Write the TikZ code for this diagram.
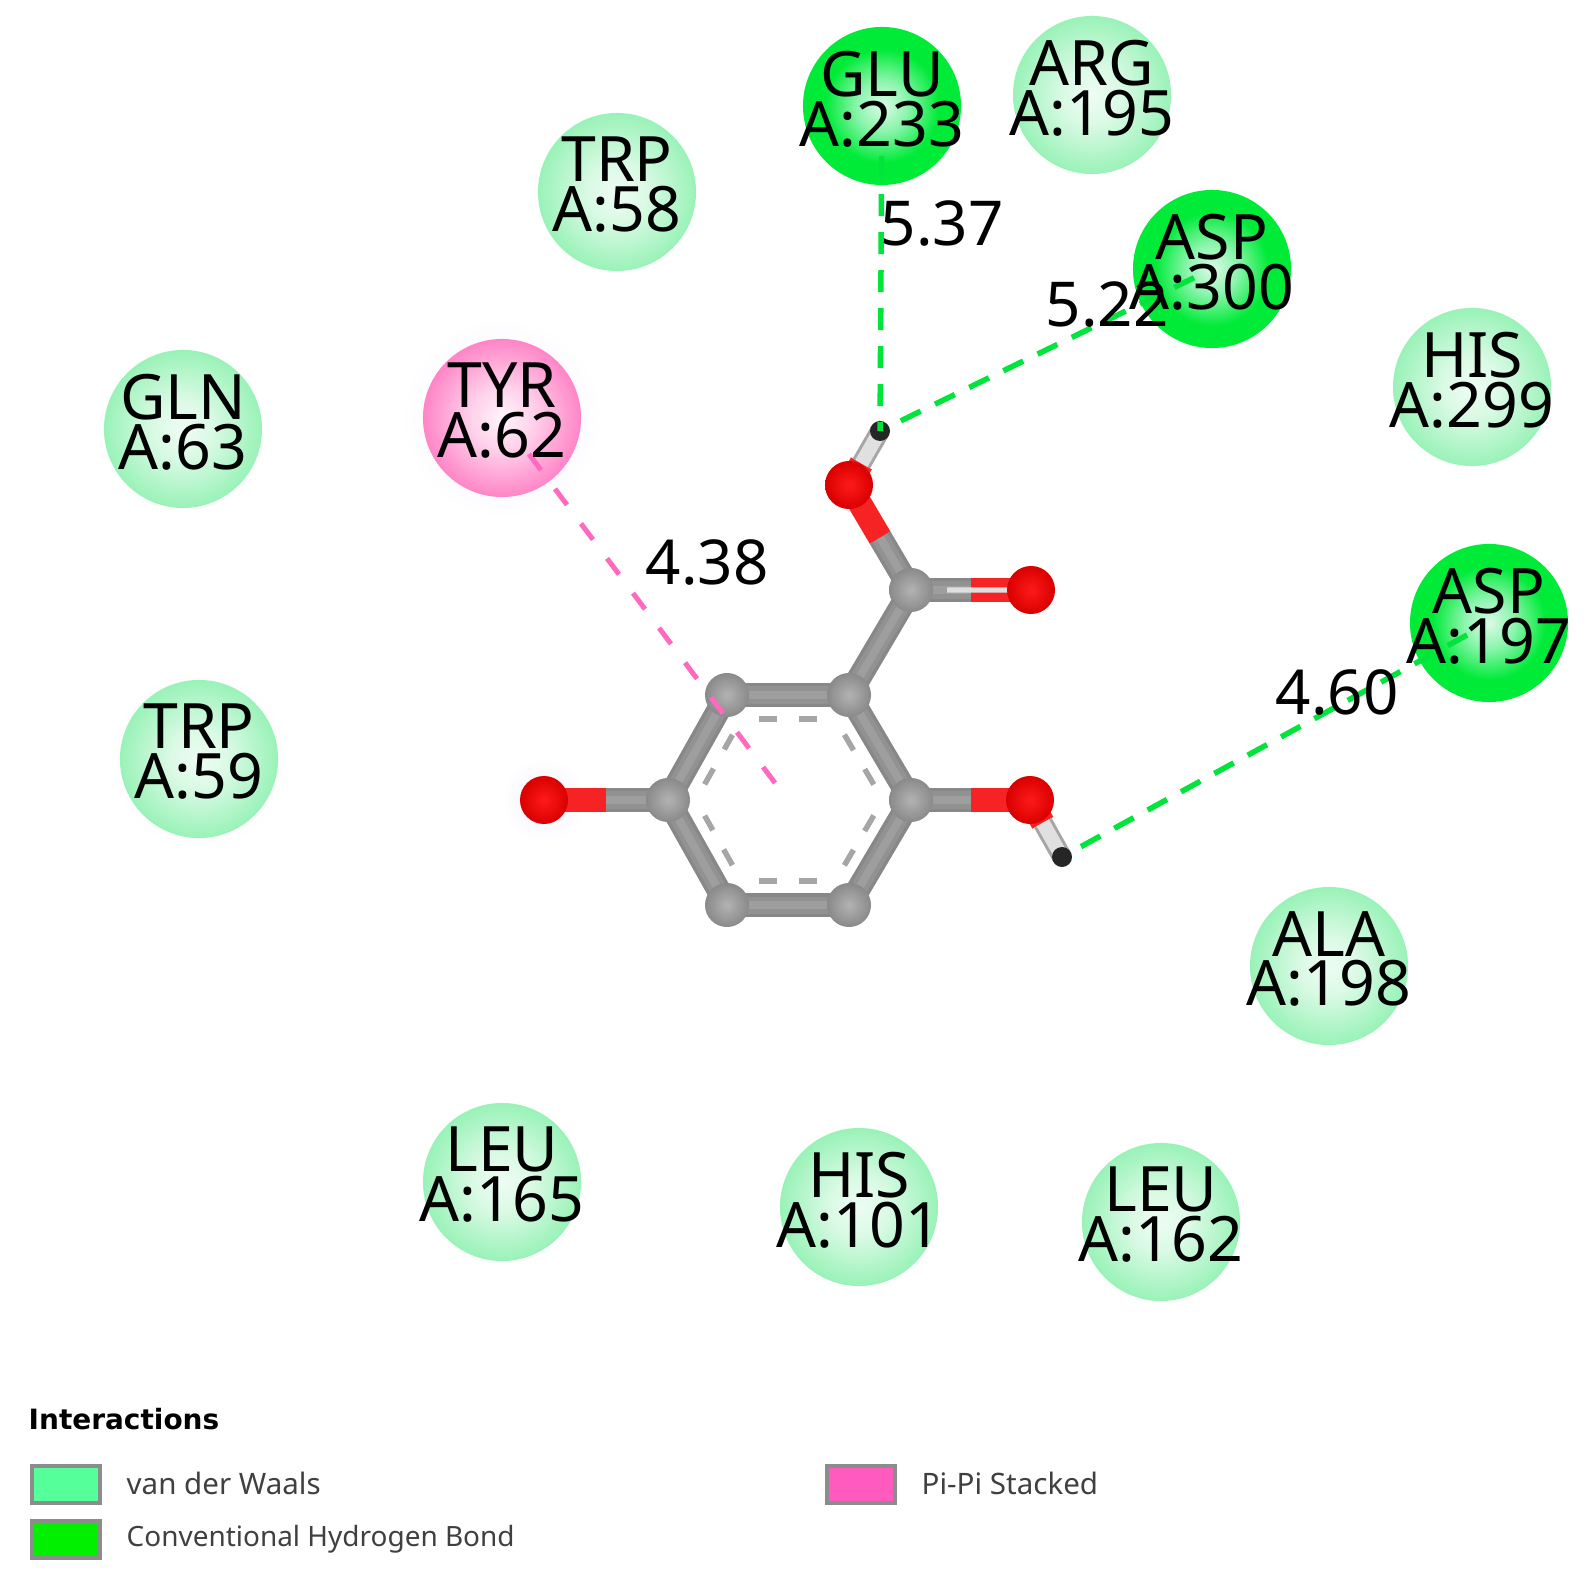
\documentclass[tikz,border=0pt]{standalone}
\usepackage{fontspec}
\setmainfont{Noto Sans}
\newfontfamily\titlefont{DejaVu Sans}
\usetikzlibrary{backgrounds,calc}
\definecolor{vdwgreen}{RGB}{85,255,153}
\definecolor{hbgreen}{RGB}{0,240,0}
\definecolor{pipink}{RGB}{255,90,190}
\definecolor{boxgray}{RGB}{140,140,140}
\definecolor{bondgray}{RGB}{136,136,136}
\definecolor{bondmid}{RGB}{146,146,146}
\definecolor{bondlight}{RGB}{158,158,158}
\definecolor{oxred}{RGB}{245,35,35}
\definecolor{dashgreen}{RGB}{0,228,60}
\definecolor{dashpink}{RGB}{255,105,190}
\pgfdeclareradialshading{vdwshade}{\pgfpoint{0bp}{0bp}}{rgb(0bp)=(0.93,0.99,0.95); rgb(9bp)=(0.86,0.98,0.90); rgb(25bp)=(0.60,0.95,0.72); rgb(100bp)=(0.60,0.95,0.72)}
\pgfdeclareradialshading{hbshade}{\pgfpoint{0bp}{0bp}}{rgb(0bp)=(0.86,0.98,0.90); rgb(8bp)=(0.55,0.96,0.68); rgb(18bp)=(0,0.92,0.22); rgb(100bp)=(0,0.92,0.22)}
\pgfdeclareradialshading{pishade}{\pgfpoint{0bp}{0bp}}{rgb(0bp)=(1,0.96,0.98); rgb(10bp)=(1,0.82,0.92); rgb(25bp)=(1,0.52,0.78); rgb(100bp)=(1,0.52,0.78)}
\begin{document}
\begin{tikzpicture}[x=0.01cm,y=-0.01cm]
    \tikzstyle{residue}=[circle,draw=none,inner sep=0pt,minimum size=1.58cm,shade]
    \tikzstyle{vdw}=[residue,shading=vdwshade]
    \tikzstyle{hb}=[residue,shading=hbshade]
    \tikzstyle{pi}=[residue,shading=pishade]
    \tikzstyle{reslabel}=[inner sep=0pt,align=center,font=\fontsize{17.8}{14.2}\selectfont]
    \tikzstyle{dist}=[inner sep=0pt,font=\fontsize{17.6}{20}\selectfont]
    \tikzstyle{catom}=[circle,inner sep=0pt,minimum size=0.44cm,shade,inner color=black!30,outer color=black!46]
    \tikzstyle{oatom}=[circle,inner sep=0pt,minimum size=0.48cm,shade,inner color=red!90!white,outer color=red!85!black]
    \tikzstyle{hatom}=[circle,inner sep=0pt,minimum size=0.2cm,fill=black!85]
    \tikzstyle{cbond}=[line width=0.24cm,draw=bondgray,postaction={draw=bondmid,line width=0.17cm},postaction={draw=bondlight,line width=0.08cm}]
    \tikzstyle{obond}=[line width=0.24cm,draw=oxred]
    \tikzstyle{hbond}=[line width=0.2cm,draw=black!35,postaction={draw=black!12,line width=0.14cm}]
    \tikzstyle{arobond}=[line width=0.055cm,draw=black!35,dash pattern=on 0.18cm off 0.22cm,shorten <=0.18cm,shorten >=0.18cm]
    \tikzstyle{halo}=[inner color=blue!6,outer color=white]
    \tikzstyle{hbdash}=[line width=0.055cm,draw=dashgreen,dash pattern=on 0.22cm off 0.16cm]
    \tikzstyle{pidash}=[line width=0.05cm,draw=dashpink,dash pattern=on 0.2cm off 0.234cm]
    \tikzstyle{legbox}=[draw=boxgray,line width=0.04cm,inner sep=0pt,minimum width=0.67cm,minimum height=0.37cm]
    \tikzstyle{legtext}=[inner sep=0pt,anchor=west,text=black!75,font=\fontsize{8.4}{9}\selectfont]

    \useasboundingbox (0, 0) rectangle (1595, 1589);

    % residues
    \foreach \nm/\x/\y/\st in {glu/882/106/hb, arg/1092/95/vdw, trpa/617/192/vdw, aspa/1212/269/hb,
        hisa/1472/387/vdw, gln/183/429/vdw, tyr/502/418/pi, aspb/1489/623/hb, trpb/199/759/vdw,
        ala/1329/966/vdw, leua/502/1182/vdw, hisb/859/1207/vdw, leub/1161/1222/vdw} {
        \node[\st] (\nm) at (\x, \y) {};
    }

    % ligand
    \foreach \nm/\x/\y in {ca/727/695, cb/849/695, cc/911/800, cd/849/905, ce/727/905, cf/668/800, cg/911/590} {
        \node[catom] (\nm) at (\x, \y) {};
    }
    \foreach \nm/\x/\y in {oa/544/800, ob/1030/800, oc/1031/590, od/849/485} {
        \node[oatom] (\nm) at (\x, \y) {};
    }
    \node[hatom] (ha) at (1062, 857) {};
    \node[hatom] (hb) at (880, 431) {};
    \coordinate (ring) at (789, 800);

    \begin{scope}[on background layer]
        \foreach \nm/\r in {tyr/1.0, trpb/0.9, aspa/0.9, oa/0.42} {
            \shade[halo] (\nm.center) circle (\r cm);
        }
        \foreach \a/\b in {ca/cb, cb/cc, cc/cd, cd/ce, ce/cf, cf/ca, cb/cg} {
            \draw[cbond] (\a.center) -- (\b.center);
        }
        \foreach \a/\b in {ca/cb, cb/cc, cc/cd, cd/ce, ce/cf, cf/ca} {
            \draw[arobond] ($(ring)!0.77!(\a.center)$) -- ($(ring)!0.77!(\b.center)$);
        }
        \foreach \a/\b in {cf/oa, cc/ob, cg/oc, cg/od} {
            \draw[cbond] (\a.center) -- ($(\a.center)!0.5!(\b.center)$);
            \draw[obond] ($(\a.center)!0.5!(\b.center)$) -- (\b.center);
        }
        \draw[line width=0.05cm,draw=white!75!gray] ($(cg.center)!0.3!(oc.center)$) -- (oc.center);
        \foreach \a/\b in {ob/ha, od/hb} {
            \draw[obond] (\a.center) -- ($(\a.center)!0.4!(\b.center)$);
            \draw[hbond] ($(\a.center)!0.4!(\b.center)$) -- (\b.center);
        }
    \end{scope}

    % interactions
    \draw[hbdash,shorten <=0.5cm] (glu.center) -- (hb.center);
    \draw[hbdash,shorten <=0.2cm,shorten >=0.15cm] (aspa.center) -- (hb.center);
    \draw[hbdash,shorten <=0.25cm,shorten >=0.2cm] (aspb.center) -- (ha.center);
    \draw[pidash,shorten <=0.45cm] (tyr.center) -- (775, 783);

    \foreach \nm/\ln/\lb in {glu/GLU/A:233, arg/ARG/A:195, trpa/TRP/A:58, aspa/ASP/A:300,
        hisa/HIS/A:299, gln/GLN/A:63, tyr/TYR/A:62, aspb/ASP/A:197, trpb/TRP/A:59,
        ala/ALA/A:198, leua/LEU/A:165, hisb/HIS/A:101, leub/LEU/A:162} {
        \node[reslabel] (\nm-lbl) at ([yshift=0.07cm]\nm.center) {\ln\\\lb};
    }

    \node[dist] (dista) at (707, 563) {4.38};
    \node[dist] (distb) at (942, 224) {5.37};
    \node[dist] (distc) at (1107, 305) {5.22};
    \node[dist] (distd) at (1337, 692) {4.60};

    % legend
    \node[inner sep=0pt,anchor=west,font=\titlefont\fontsize{7.95}{10}\selectfont\bfseries] (legtitle) at (28, 1419) {Interactions};
    \node[legbox,fill=vdwgreen] (legvdw) at (66, 1484) {};
    \node[legbox,fill=hbgreen] (leghb) at (66, 1539) {};
    \node[legbox,fill=pipink] (legpi) at (861, 1484) {};
    \node[legtext] (txtvdw) at (126, 1483) {van der Waals};
    \node[legtext,font=\fontsize{7.95}{9}\selectfont] (txthb) at (126, 1539) {Conventional Hydrogen Bond};
    \node[legtext] (txtpi) at (921, 1483) {Pi-Pi Stacked};
\end{tikzpicture}
\end{document}
